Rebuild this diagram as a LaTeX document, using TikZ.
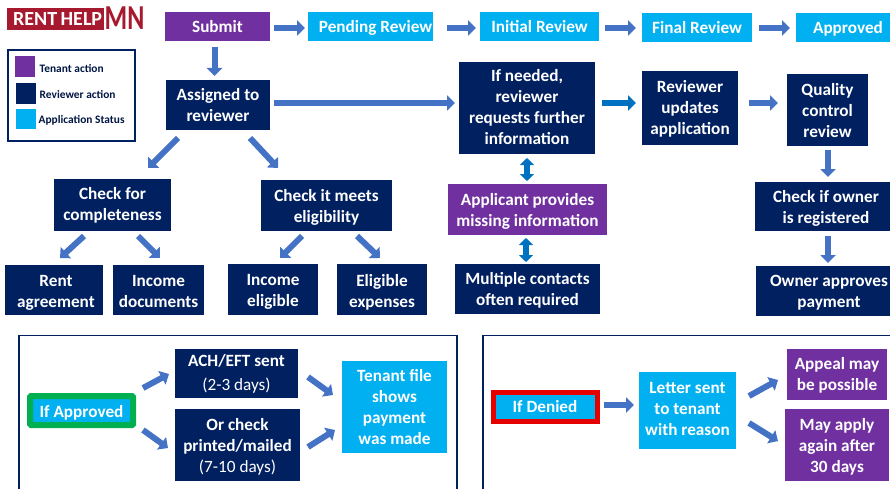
\documentclass[tikz,border=0pt]{standalone}
\usepackage{fontspec}
\setmainfont{Carlito}
\usetikzlibrary{arrows.meta,calc}
\definecolor{navy}{HTML}{002060}
\definecolor{purp}{HTML}{7030A0}
\definecolor{cyanb}{HTML}{00B0F0}
\definecolor{arrowb}{HTML}{4472C4}
\definecolor{arrowd}{HTML}{0070C0}
\definecolor{logored}{HTML}{A6192E}
\definecolor{greenb}{HTML}{00B050}
\def\dnv{3}
\def\dxv{0}
\tikzset{
 x=1pt,y=-1pt,
 dn/.code={\gdef\dnv{#1}},
 dx/.code={\gdef\dxv{#1}},
 flow/.style={dn=3,dx=0,inner sep=0pt,outer sep=0pt},
 flowtxt/.style={inner sep=0pt,outer sep=0pt,align=center,text=white,font=\fontsize{17.2}{21}\selectfont\bfseries,execute at begin node=\strut,execute at end node=\strut},
 navyb/.style={flow,fill=navy},
 purpb/.style={flow,fill=purp},
 cyanbx/.style={flow,fill=cyanb},
 blk/.style={draw=arrowb,line width=6pt,-{Triangle[length=8pt,width=15pt]}},
 blkd/.style={draw=arrowd,line width=5.5pt,{Triangle[length=7pt,width=14pt]}-{Triangle[length=7pt,width=14pt]}},
 legtxt/.style={inner sep=0pt,anchor=west,text=navy!70!black,font=\fontsize{11.4}{12}\selectfont\bfseries},
 frameb/.style={draw=navy,line width=1.6pt},
}
% name, x0,y0,x1,y1, style (with dn=text drop, dx=text shift), text
\newcommand{\bx}[7]{\path ({(#2+#4)/2},{(#3+#5)/2}) node[#6,minimum width={#4-#2},minimum height={#5-#3}] (#1) {};
 \node[flowtxt,yshift=-\dnv pt,xshift=\dxv pt] (#1t) at (#1.center) {#7};}
% connector: style, from, offset, to, offset
\newcommand{\conn}[5]{\draw[#1] ($(#2)+(#3)$) -- ($(#4)+(#5)$);}
\begin{document}
\begin{tikzpicture}
\useasboundingbox[fill=white] (0,0) rectangle (890,489);
% logo
\fill[logored] (7,8) rectangle (104,30);
\node[inner sep=0pt,text=white,font=\fontsize{20}{20}\selectfont\bfseries,anchor=west] (logoa) at (13,19.5) {RENT\,HELP};
\node[inner sep=0pt,text=logored,font=\fontsize{35}{35}\selectfont\bfseries,anchor=west] (logob) at (104.5,18.5) {\scalebox{0.74}[1]{MN}};
% legend
\draw[frameb] (8,50) rectangle (135,141);
\fill[purp] (15,56) rectangle (35,77);
\fill[navy] (16,83) rectangle (36,104);
\fill[cyanb] (16,109) rectangle (36,129);
\node[legtxt] (lega) at (39.5,69) {Tenant action};
\node[legtxt] (legb) at (39.5,95) {Reviewer action};
\node[legtxt] (legc) at (38.5,120.5) {Application Status};
% top row
\bx{submit}{165}{12}{270}{41}{purpb,dn=2}{Submit}
\bx{pending}{308}{12}{433}{41}{cyanbx,dn=2,dx=5}{Pending Review}
\bx{initial}{480}{12}{599}{41}{cyanbx,dn=2}{Initial Review}
\bx{final}{642}{13}{752}{42}{cyanbx,dn=2}{Final Review}
\bx{approved}{796}{13}{890}{42}{cyanbx,dn=2,dx=5}{Approved}
% second row
\bx{assigned}{166}{80}{270}{130}{navyb,dn=3.5}{Assigned to\\reviewer}
\bx{ifneeded}{459}{62}{595}{154}{navyb,dn=2.5}{If needed,\\reviewer\\requests further\\information}
\bx{updates}{642}{71}{738}{145}{navyb,dn=3}{Reviewer\\updates\\application}
\bx{quality}{787}{74}{868}{146}{navyb,dn=3.5}{Quality\\control\\review}
% third row
\bx{complete}{54}{179}{171}{231}{navyb,dn=2}{Check for\\completeness}
\bx{meets}{261}{180}{392}{231}{navyb,dn=3.5}{Check it meets\\eligibility}
\bx{applicant}{448}{184}{607}{235}{purpb,dn=4}{Applicant provides\\missing information}
\bx{owner}{755}{182}{890}{231}{navyb,dn=4,dx=3.5}{Check if owner\\is registered}
% fourth row
\bx{rent}{5}{265}{103}{315}{navyb,dn=4.5,dx=2}{Rent\\agreement}
\bx{incdoc}{113}{265}{204}{315}{navyb,dn=4.5}{Income\\documents}
\bx{incel}{228}{264}{318}{315}{navyb,dn=4.5}{Income\\eligible}
\bx{eligexp}{337}{264}{427}{315}{navyb,dn=4.5}{Eligible\\expenses}
\bx{contacts}{455}{264}{600}{314}{navyb,dn=3.5}{Multiple contacts\\often required}
\bx{ownerpay}{756}{266}{890}{316}{navyb,dn=4,dx=6}{Owner approves\\payment}
% bottom frames
\draw[frameb] (19,489) -- (19,335.5) -- (457,335.5) -- (457,489);
\draw[frameb] (483,489) -- (483,335.5) -- (890,335.5);
% approved side
\path[fill=cyanb,draw=greenb,rounded corners=1pt,line width=6pt] (30,396) rectangle (133,425);
\node[flowtxt] (ifapp) at (81.5,413) {If Approved};
\bx{ach}{175}{349}{298}{398}{navyb,dn=2.5}{ACH/EFT sent\\[3pt]\mdseries (2-3 days)}
\bx{check}{175}{409}{300}{481}{navyb,dn=4}{Or check\\printed/mailed\\\mdseries (7-10 days)}
\bx{tenant}{342}{361}{447}{453}{cyanbx,dn=3}{Tenant file\\shows\\payment\\was made}
% denied side
\path[fill=cyanb,draw=red!90!black,line width=5pt] (493.5,392.5) rectangle (597,421.5);
\node[flowtxt] (ifden) at (545,408) {If Denied};
\bx{letter}{639}{372}{736}{449}{cyanbx,dn=1.5}{Letter sent\\to tenant\\with reason}
\bx{appeal}{787}{349}{887}{400}{purpb,dn=3}{Appeal may\\be possible}
\bx{again}{785}{409}{889}{481}{purpb,dn=3.5}{May apply\\again after\\30 days}
% arrows
\conn{blk}{submit.east}{4,1.5}{pending.west}{-3,1.5}
\conn{blk}{pending.east}{14,1.5}{initial.west}{-4,1.5}
\conn{blk}{initial.east}{6,1.5}{final.west}{-6,0.5}
\conn{blk}{final.east}{7,0.5}{approved.west}{-6,0.5}
\conn{blk}{submit.south}{-3,6}{assigned.north}{-3.5,-4}
\conn{blk}{assigned.east}{4,-2}{ifneeded.west}{-4,-5}
\conn{blk,draw=arrowd}{ifneeded.east}{7,-5}{updates.west}{-6,-5}
\conn{blk}{updates.east}{11,-5}{quality.west}{-9,-7}
\conn{blk}{quality.south}{0.5,4}{owner.north}{5.5,-5}
\conn{blk}{owner.south}{5.5,5}{ownerpay.north}{5,-3}
\conn{blkd}{ifneeded.south}{0,4}{applicant.north}{-0.5,-3}
\conn{blkd}{applicant.south}{-1.5,3}{contacts.north}{-1.5,-2}
% diagonals
\conn{blk}{assigned.south}{-40,8}{complete.north}{35.5,-11}
\conn{blk}{assigned.south}{32,8}{meets.north}{-48.5,-12}
\conn{blk}{complete.south}{-28.5,5}{rent.north}{6,-7}
\conn{blk}{complete.south}{25.5,5}{incdoc.north}{1.5,-7}
\conn{blk}{meets.south}{-24.5,5}{incel.north}{7,-6}
\conn{blk}{meets.south}{30.5,5}{eligexp.north}{-2,-6}
\conn{blk}{ifapp.center}{61.5,-25}{ach.west}{-6,0.5}
\conn{blk}{ifapp.center}{61.5,17}{check.west}{-7,3}
\conn{blk}{ach.east}{10,3.5}{tenant.west}{-9,-12}
\conn{blk}{check.east}{8,2}{tenant.west}{-7,23}
\conn{blk}{ifden.center}{59,-3}{letter.west}{-5,-5.5}
\conn{blk}{letter.east}{13,-14.5}{appeal.west}{-9,5.5}
\conn{blk}{letter.east}{13,12.5}{again.west}{-7,-4}
\end{tikzpicture}
\end{document}
